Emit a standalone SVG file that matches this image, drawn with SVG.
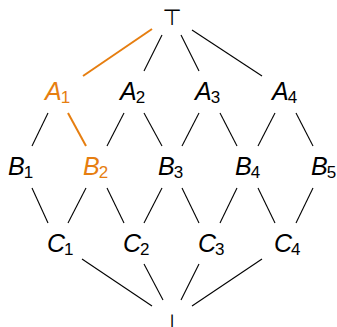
<svg xmlns="http://www.w3.org/2000/svg" width="337" height="327" viewBox="0 0 337 327">
<style>
.t{font-family:"Liberation Sans",Arial,sans-serif;font-style:italic;font-size:25px;fill:#000}
.s{font-style:normal;font-size:17px}
.o{fill:#E67E10}
.sym{font-family:"DejaVu Sans",sans-serif;font-size:22px;fill:#000}
.e line{stroke:#000;stroke-width:1.1}
.e line.hl{stroke:#E67E10;stroke-width:2}
</style>
<rect width="337" height="327" fill="#fff"/>
<g id="connectors" class="e">
<line class="hl" x1="152" y1="29" x2="83" y2="76"/>
<line x1="162" y1="35" x2="144" y2="71"/>
<line x1="181" y1="35" x2="199" y2="71"/>
<line x1="192" y1="30" x2="262" y2="76"/>
<line x1="48" y1="113" x2="32" y2="146"/>
<line class="hl" x1="68" y1="113" x2="86" y2="146"/>
<line x1="124" y1="113" x2="107" y2="146"/>
<line x1="144" y1="113" x2="162" y2="146"/>
<line x1="199" y1="113" x2="182" y2="146"/>
<line x1="220" y1="113" x2="237" y2="146"/>
<line x1="275" y1="113" x2="258" y2="146"/>
<line x1="296" y1="113" x2="313" y2="146"/>
<line x1="32" y1="188" x2="48" y2="223"/>
<line x1="86" y1="188" x2="68" y2="223"/>
<line x1="107" y1="188" x2="124" y2="223"/>
<line x1="162" y1="188" x2="144" y2="223"/>
<line x1="182" y1="188" x2="199" y2="223"/>
<line x1="237" y1="188" x2="220" y2="223"/>
<line x1="258" y1="188" x2="275" y2="223"/>
<line x1="313" y1="188" x2="296" y2="223"/>
<line x1="82" y1="259" x2="152" y2="306"/>
<line x1="144" y1="264" x2="163" y2="300"/>
<line x1="199" y1="264" x2="181" y2="300"/>
<line x1="262" y1="259" x2="192" y2="306"/>
</g>
<g id="top"><text class="sym" x="172" y="25" text-anchor="middle">⊤</text></g>
<g id="A1"><text class="t o" x="45" y="100">A<tspan class="s" dy="3" dx="-1">1</tspan></text></g>
<g id="A2"><text class="t" x="120" y="100">A<tspan class="s" dy="3" dx="-1">2</tspan></text></g>
<g id="A3"><text class="t" x="195" y="100">A<tspan class="s" dy="3" dx="-1">3</tspan></text></g>
<g id="A4"><text class="t" x="272" y="100">A<tspan class="s" dy="3" dx="-1">4</tspan></text></g>
<g id="B1"><text class="t" x="8" y="175">B<tspan class="s" dy="3" dx="-1">1</tspan></text></g>
<g id="B2"><text class="t o" x="83" y="175">B<tspan class="s" dy="3" dx="-1">2</tspan></text></g>
<g id="B3"><text class="t" x="158" y="175">B<tspan class="s" dy="3" dx="-1">3</tspan></text></g>
<g id="B4"><text class="t" x="235" y="175">B<tspan class="s" dy="3" dx="-1">4</tspan></text></g>
<g id="B5"><text class="t" x="311" y="175">B<tspan class="s" dy="3" dx="-1">5</tspan></text></g>
<g id="C1"><text class="t" x="47" y="252">C<tspan class="s" dy="3" dx="-1">1</tspan></text></g>
<g id="C2"><text class="t" x="123" y="252">C<tspan class="s" dy="3" dx="-1">2</tspan></text></g>
<g id="C3"><text class="t" x="198" y="252">C<tspan class="s" dy="3" dx="-1">3</tspan></text></g>
<g id="C4"><text class="t" x="274" y="252">C<tspan class="s" dy="3" dx="-1">4</tspan></text></g>
<g id="bottom"><text class="sym" x="172" y="330" text-anchor="middle">⊥</text></g>
</svg>
